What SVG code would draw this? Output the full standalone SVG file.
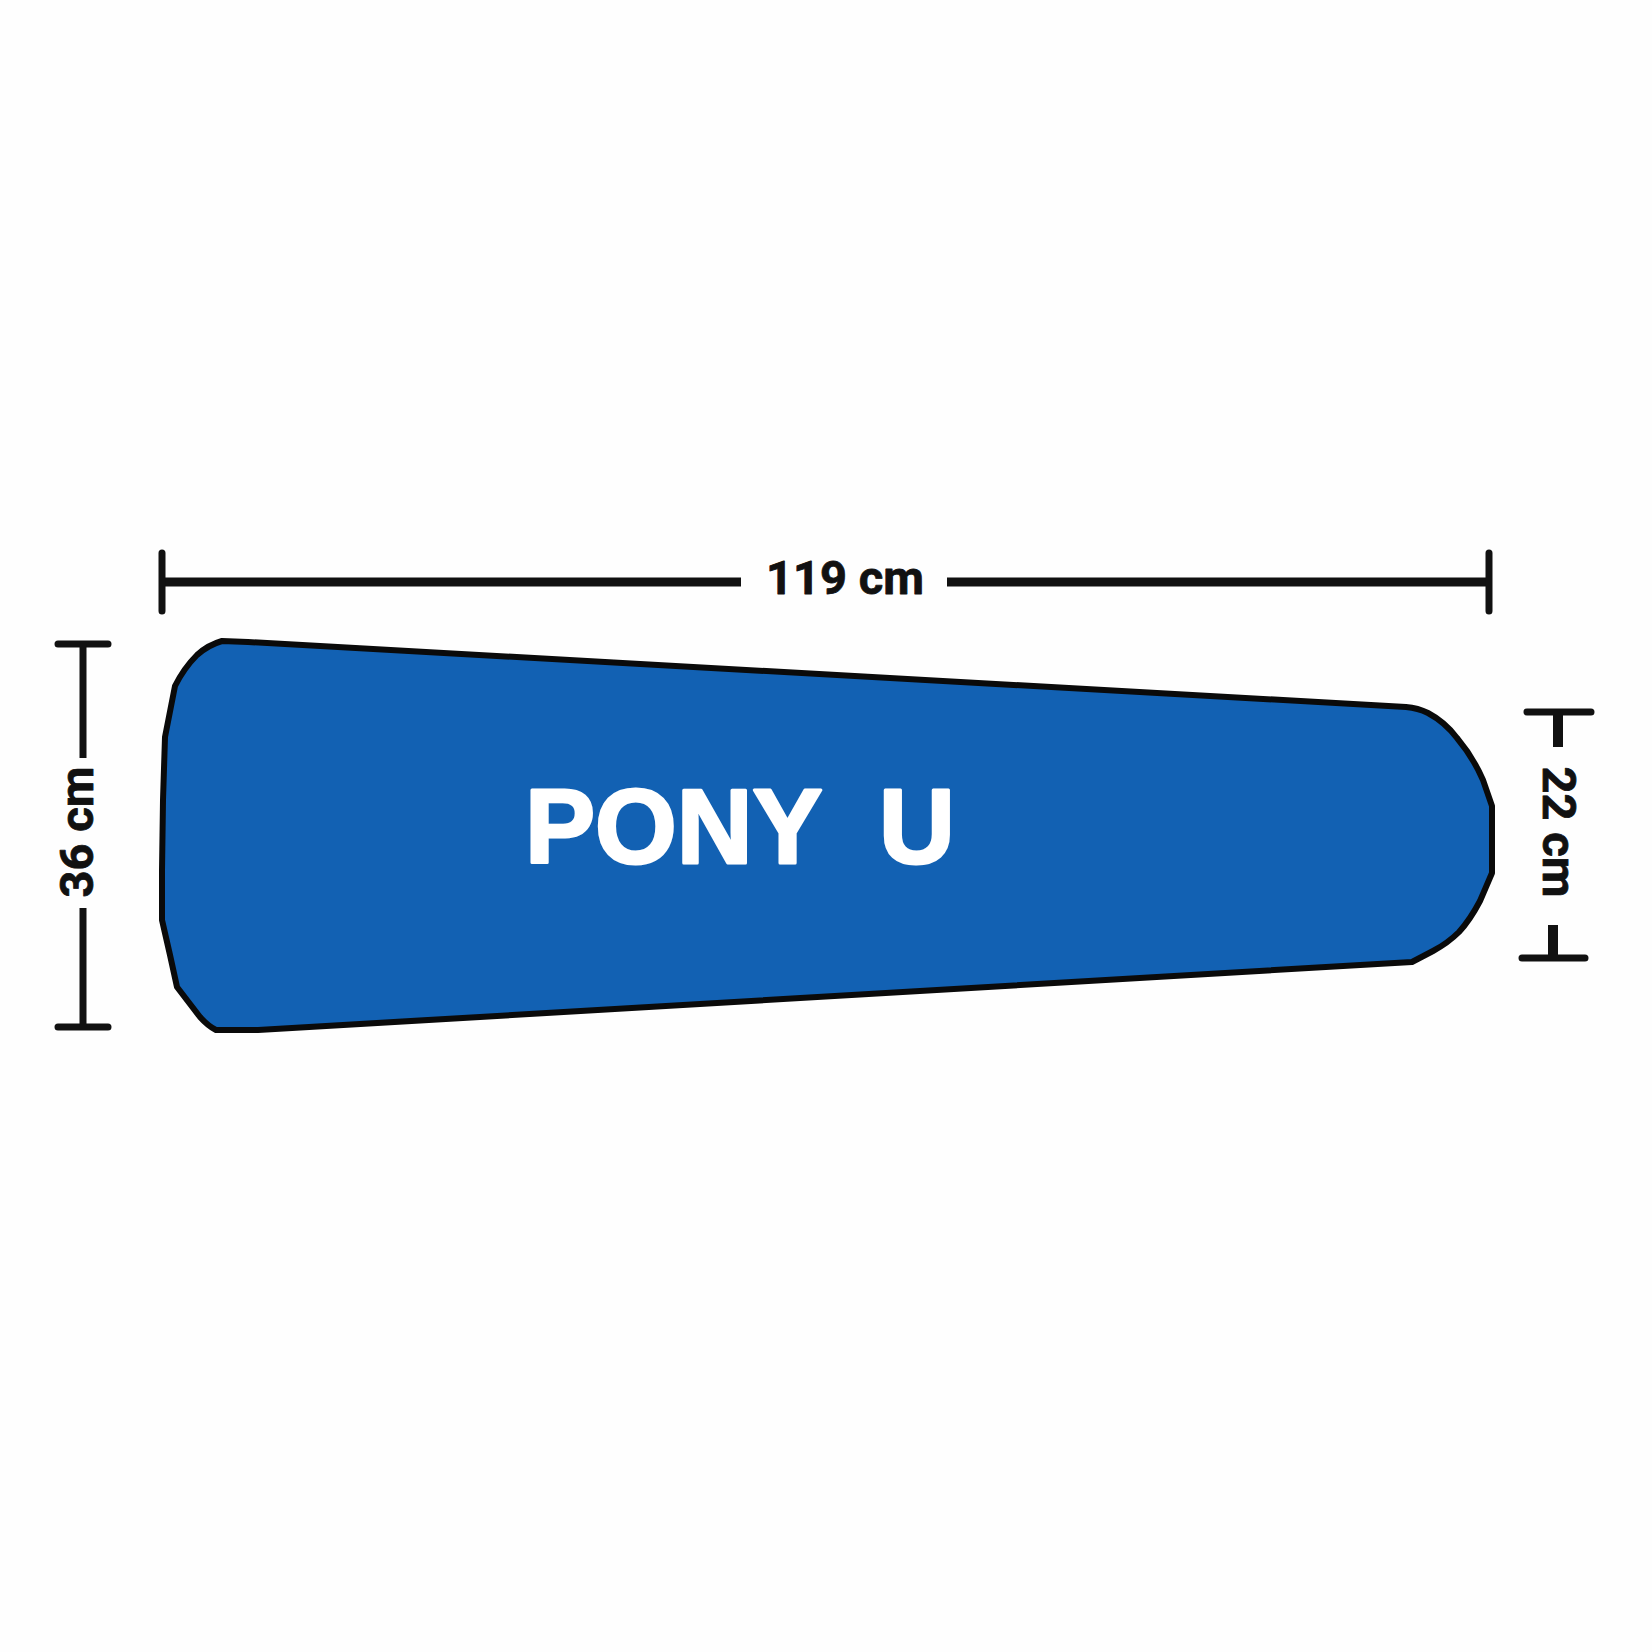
<svg xmlns="http://www.w3.org/2000/svg" width="1652" height="1652" viewBox="0 0 1652 1652">
<style>
.dim{stroke:#111;fill:none}
.lbl{font-family:Roboto,"Liberation Sans",sans-serif;font-weight:bold;font-size:47px;fill:#111;stroke:#111;stroke-width:0.8px;stroke-linejoin:round}
</style>
<rect width="1652" height="1652" fill="#fefefe"/>
<g id="board">
<path d="M222,641 L248,642 L1406,707 Q1418,708 1428,713 Q1445,722 1457,738 Q1473,757 1483,780 L1492,806 L1492,873 L1480,901 Q1470,920 1459,932 Q1448,943 1433,951 L1412,962 L258,1030 L216,1030 Q208,1026 200,1017 L177,987 L170,955 L162,920 L162,870 L163,800 L165,737 L175,686 Q184,668 197,655 Q208,645 222,641 Z" fill="#1261b3" stroke="#0a0a0a" stroke-width="6" stroke-linejoin="round"/>
<text x="525" y="863" xml:space="preserve" font-family="Liberation Sans, Arial, sans-serif" font-weight="bold" font-size="105" fill="#ffffff" stroke="#ffffff" stroke-width="3" stroke-linejoin="round">PONY  U</text>
</g>
<g id="dim-length">
<path class="dim" stroke-width="9" stroke-linecap="butt" d="M162,582 H741 M947,582 H1489"/>
<path class="dim" stroke-width="7" stroke-linecap="round" d="M162,553 V611 M1489,553 V611"/>
<text class="lbl" x="845" y="594" text-anchor="middle">119 cm</text>
</g>
<g id="dim-left">
<path class="dim" stroke-width="7" stroke-linecap="round" d="M58,644 H108 M58,1027 H108"/>
<path class="dim" stroke-width="7" stroke-linecap="butt" d="M83,644 V758 M83,908 V1027"/>
<text class="lbl" transform="translate(93,832) rotate(-90)" text-anchor="middle">36 cm</text>
</g>
<g id="dim-right">
<path class="dim" stroke-width="7" stroke-linecap="round" d="M1527,712 H1591 M1522,958 H1585"/>
<path class="dim" stroke-width="10" stroke-linecap="butt" d="M1558,712 V747 M1553,925 V958"/>
<text class="lbl" transform="translate(1543,832) rotate(90)" text-anchor="middle">22 cm</text>
</g>
</svg>
